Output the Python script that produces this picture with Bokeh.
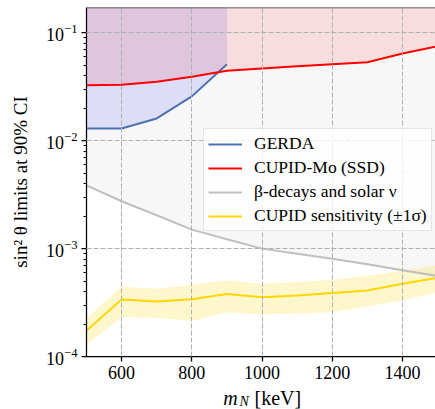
from bokeh.plotting import figure
from bokeh.layouts import column
from bokeh.models import Legend, LegendItem, FixedTicker, Span, Label
from bokeh.embed import file_html
from bokeh.resources import INLINE

# ---- data ----
mass = [500, 600, 700, 800, 900, 1000, 1100, 1200, 1300, 1400, 1500]

gerda_mass = [500, 600, 700, 800, 900]
gerda = [0.0130, 0.0130, 0.0161, 0.0258, 0.0513]

cupid_mo = [0.0328, 0.0330, 0.0352, 0.0393, 0.0446, 0.0468, 0.0490, 0.0513, 0.0535, 0.0644, 0.0753]

beta_solar = [0.00386, 0.00275, 0.00204, 0.00150, 0.00122, 0.00100, 0.000895, 0.000807, 0.000715, 0.000629, 0.000557]

cupid_sens = [1.74e-4, 3.38e-4, 3.24e-4, 3.40e-4, 3.80e-4, 3.55e-4, 3.68e-4, 3.87e-4, 4.10e-4, 4.72e-4, 5.37e-4]
cupid_hi = [2.25e-4, 4.46e-4, 4.25e-4, 4.65e-4, 5.07e-4, 4.72e-4, 4.90e-4, 5.14e-4, 5.60e-4, 6.28e-4, 7.00e-4]
cupid_lo = [1.29e-4, 2.32e-4, 2.29e-4, 2.13e-4, 2.57e-4, 2.45e-4, 2.50e-4, 2.57e-4, 2.90e-4, 3.30e-4, 3.95e-4]

x_ticks = [600, 800, 1000, 1200, 1400]
top_fill = 1.0

SERIF = "'Liberation Serif', 'DejaVu Serif', serif"

p = figure(width=435, height=386, x_range=(500, 1494), y_range=(1e-4, 0.172),
           y_axis_type="log", output_backend="svg", toolbar_location=None,
           min_border_left=86, min_border_right=0, min_border_top=7, min_border_bottom=30)

p.background_fill_color = "white"
p.border_fill_color = "white"
p.outline_line_color = None

# fills
p.varea(x=mass, y1=beta_solar, y2=[top_fill] * len(mass), fill_color="#f7f7f7", fill_alpha=1.0)
p.varea(x=gerda_mass, y1=gerda, y2=[top_fill] * len(gerda_mass), fill_color="blue", fill_alpha=0.1)
p.varea(x=mass, y1=cupid_mo, y2=[top_fill] * len(mass), fill_color="red", fill_alpha=0.1)
p.varea(x=mass, y1=cupid_lo, y2=cupid_hi, fill_color="gold", fill_alpha=0.2)

# lines
r_beta = p.line(mass, beta_solar, line_color="#bfbfbf", line_width=2)
r_gerda = p.line(gerda_mass, gerda, line_color="#4c72b0", line_width=2)
r_mo = p.line(mass, cupid_mo, line_color="red", line_width=2)
r_sens = p.line(mass, cupid_sens, line_color="gold", line_width=2)

# top spine
p.add_layout(Span(location=0.172, dimension="width", line_color="#333333", line_width=1.5))

# grids (drawn above the fills, below the legend)
p.xgrid.ticker = FixedTicker(ticks=x_ticks)
for g in (p.xgrid, p.ygrid):
    g.grid_line_color = "#b0b0b0"
    g.grid_line_dash = "5 2"
    g.grid_line_width = 1
    g.level = "guide"

# axes
p.xaxis.ticker = FixedTicker(ticks=x_ticks)
for ax in (p.xaxis, p.yaxis):
    ax.axis_line_color = "black"
    ax.axis_line_width = 1.25
    ax.major_tick_line_color = "black"
    ax.major_tick_line_width = 1.25
    ax.major_tick_in = 0
    ax.major_tick_out = 5
    ax.minor_tick_line_color = "black"
    ax.minor_tick_in = 0
    ax.minor_tick_out = 3
    ax.major_label_text_font = SERIF
    ax.major_label_text_font_size = "18px"
    ax.major_label_text_color = "black"
    ax.major_label_standoff = 4
p.xaxis.minor_tick_line_color = None

p.yaxis.axis_label = "sin² θ limits at 90% CI"
p.yaxis.axis_label_text_font = SERIF
p.yaxis.axis_label_text_font_size = "19px"
p.yaxis.axis_label_text_font_style = "normal"
p.yaxis.axis_label_text_color = "black"
p.yaxis.axis_label_standoff = 12

legend = Legend(items=[
    LegendItem(label="GERDA", renderers=[r_gerda]),
    LegendItem(label="CUPID-Mo (SSD)", renderers=[r_mo]),
    LegendItem(label="β-decays and solar ν", renderers=[r_beta]),
    LegendItem(label="CUPID sensitivity (±1σ)", renderers=[r_sens]),
], location=(117, 125))
legend.label_text_font = SERIF
legend.label_text_font_size = "17.5px"
legend.label_text_color = "black"
legend.glyph_width = 34
legend.glyph_height = 20
legend.label_height = 20
legend.label_standoff = 12
legend.spacing = 3
legend.padding = 4
legend.margin = 0
legend.border_line_color = "#cccccc"
legend.border_line_width = 1
legend.background_fill_color = "white"
legend.background_fill_alpha = 0.8
p.add_layout(legend, "center")

# strip below the plot carrying the x axis title  m_N [keV]
# (its frame is aligned with the main frame, which starts 86 px from the left)
lab = figure(width=435, height=23, x_range=(0, 1), y_range=(0, 1),
             x_axis_location=None, y_axis_location=None,
             output_backend="svg", toolbar_location=None,
             min_border=0, min_border_left=0, min_border_right=0,
             min_border_top=0, min_border_bottom=0)
lab.grid.visible = False
lab.outline_line_color = None
lab.background_fill_color = "white"
lab.border_fill_color = "white"
lab.add_layout(Label(x=136.7, y=11.5, x_units="screen", y_units="screen", text="m",
                     text_font=SERIF, text_font_size="20px",
                     text_font_style="italic", text_baseline="middle", text_color="black"))
lab.add_layout(Label(x=153, y=8, x_units="screen", y_units="screen", text="N",
                     text_font=SERIF, text_font_size="14px",
                     text_font_style="italic", text_baseline="middle", text_color="black"))
lab.add_layout(Label(x=168, y=11.5, x_units="screen", y_units="screen", text="[keV]",
                     text_font=SERIF, text_font_size="20px",
                     text_baseline="middle", text_color="black"))

layout = column(p, lab, spacing=0)
open("out.html", "w").write(file_html(layout, INLINE))
